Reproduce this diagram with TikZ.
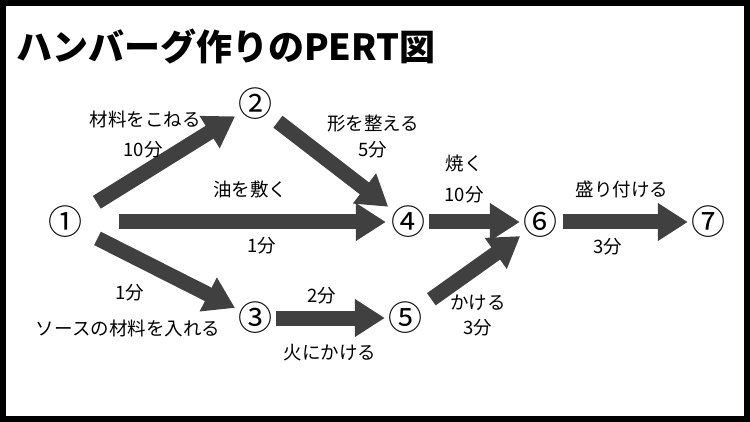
\documentclass[tikz,border=0pt]{standalone}
\usepackage{fontspec}
\setmainfont{Noto Sans CJK JP}
\usetikzlibrary{arrows.meta}
\definecolor{pertgray}{HTML}{404040}

\begin{document}
\begin{tikzpicture}[x=1pt, y=-1pt,
    event/.style={font=\fontsize{34}{34}\selectfont, inner sep=1pt},
    task/.style={draw=pertgray, line width=15pt, -{Triangle[width=36pt, length=30pt]}},
    lbl/.style={font=\fontsize{18.5}{18.5}\selectfont}]
  % frame
  \draw[line width=6pt] (3,3) rectangle (747,419);
  \node[anchor=west, font=\bfseries\fontsize{36}{36}\selectfont, inner sep=0pt] (title) at (16,46) {ハンバーグ作りのPERT図};

  % events
  \node[event] (e1) at (65,222) {①};
  \node[event] (e2) at (255,104) {②};
  \node[event] (e3) at (255,318) {③};
  \node[event] (e4) at (408,222) {④};
  \node[event] (e5) at (405,318) {⑤};
  \node[event] (e6) at (540,222) {⑥};
  \node[event] (e7) at (708,222) {⑦};

  % activities
  \draw[task, shorten <=16pt, shorten >=2pt] (e1) -- (e2);
  \draw[task, shorten <=36pt, shorten >=4pt] (e1) -- (e4);
  \draw[task, shorten <=16pt, shorten >=2pt] (e1) -- (e3);
  \draw[task, shorten <=6pt, shorten >=2pt] (e2) -- (e4);
  \draw[task, shorten <=3pt, shorten >=2pt] (e3) -- (e5);
  \draw[task, shorten <=3pt, shorten >=2pt] (e4) -- (e6);
  \draw[task, shorten <=10pt, shorten >=2pt] (e5) -- (e6);
  \draw[task, shorten <=5pt, shorten >=2pt] (e6) -- (e7);

  % labels
  \node[lbl] (l12a) at (145,119) {材料をこねる};
  \node[lbl] (l12b) at (143,150) {10分};
  \node[lbl] (l24a) at (373,124) {形を整える};
  \node[lbl] (l24b) at (373,150) {5分};
  \node[lbl] (l14a) at (250,189) {油を敷く};
  \node[lbl] (l14b) at (262,246) {1分};
  \node[lbl] (l13a) at (130,293) {1分};
  \node[lbl] (l13b) at (128,328) {ソースの材料を入れる};
  \node[lbl] (l35a) at (322,296) {2分};
  \node[lbl] (l35b) at (330,353) {火にかける};
  \node[lbl] (l46a) at (464,163) {焼く};
  \node[lbl] (l46b) at (464,195) {10分};
  \node[lbl] (l56a) at (478,303) {かける};
  \node[lbl] (l56b) at (478,328) {3分};
  \node[lbl] (l67a) at (622,189) {盛り付ける};
  \node[lbl] (l67b) at (608,247) {3分};
\end{tikzpicture}
\end{document}
